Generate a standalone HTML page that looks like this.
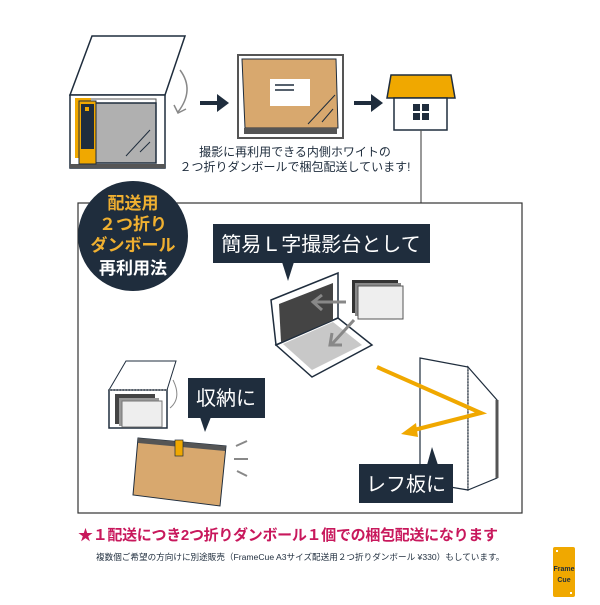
<!DOCTYPE html>
<html><head><meta charset="utf-8"><style>
body{margin:0;background:#fff;width:600px;height:600px;overflow:hidden;font-family:"Liberation Sans","Noto Sans CJK JP",sans-serif}
</style></head><body>
<svg width="600" height="600" viewBox="0 0 600 600" xmlns="http://www.w3.org/2000/svg" font-family="Liberation Sans, Noto Sans CJK JP, sans-serif">
<polygon points="92,36 185,36 165,95 70,95" fill="#fff" stroke="#1f2d3d" stroke-width="1.5"/>
<rect x="70" y="95" width="95" height="73" fill="#fff" stroke="#1f2d3d" stroke-width="1.5"/>
<line x1="72" y1="95" x2="163" y2="95" stroke="#1f2d3d" stroke-dasharray="2,2"/>
<rect x="70" y="164" width="95" height="4" fill="#555"/>
<rect x="80" y="99" width="76" height="64" fill="#fff" stroke="#555"/>
<rect x="90" y="103" width="66" height="60" fill="#b0b0b0" stroke="#1f2d3d" stroke-width="1.5"/>
<rect x="75" y="98" width="16" height="60" fill="#f0a800"/>
<rect x="79" y="101" width="17" height="63" fill="#f0a800" stroke="#1f2d3d"/>
<rect x="81" y="104" width="13" height="45" fill="#1f2d3d"/>
<rect x="85" y="107" width="4" height="4" fill="#f0a800"/>
<line x1="126" y1="156" x2="150" y2="130" stroke="#1f2d3d"/><line x1="140" y1="152" x2="150" y2="142" stroke="#1f2d3d"/>
<path d="M180,70 Q195,90 178,112" fill="none" stroke="#888" stroke-width="1.5"/>
<path d="M174,105 L178,113 L186,109" fill="none" stroke="#888" stroke-width="1.5"/>
<line x1="200" y1="103" x2="220" y2="103" stroke="#1f2d3d" stroke-width="4"/><polygon points="217,94 229,103 217,112" fill="#1f2d3d"/>
<line x1="354" y1="103" x2="374" y2="103" stroke="#1f2d3d" stroke-width="4"/><polygon points="371,94 383,103 371,112" fill="#1f2d3d"/>
<rect x="238" y="55" width="105" height="83" fill="#fff" stroke="#555" stroke-width="2"/>
<polygon points="242,59 336,59 338,128 245,128" fill="#d8a86e" stroke="#1f2d3d"/>
<rect x="244" y="128" width="93" height="6" fill="#555"/>
<rect x="270" y="79" width="40" height="27" fill="#fff"/>
<line x1="275" y1="85" x2="294" y2="85" stroke="#1f2d3d" stroke-width="1.5"/><line x1="275" y1="90" x2="294" y2="90" stroke="#1f2d3d" stroke-width="1.5"/>
<line x1="308" y1="124" x2="335" y2="95" stroke="#1f2d3d"/><line x1="322" y1="122" x2="333" y2="109" stroke="#1f2d3d"/>
<polygon points="391,75 451,75 455,98 387,98" fill="#f0a800" stroke="#1f2d3d" stroke-width="1.5"/>
<rect x="394" y="98" width="53" height="32" fill="#fff" stroke="#1f2d3d" stroke-width="1.5"/>
<rect x="413" y="104" width="7" height="7" fill="#1f2d3d"/><rect x="422" y="104" width="7" height="7" fill="#1f2d3d"/>
<rect x="413" y="113" width="7" height="7" fill="#1f2d3d"/><rect x="422" y="113" width="7" height="7" fill="#1f2d3d"/>
<line x1="421" y1="130" x2="421" y2="203" stroke="#555" stroke-width="1.2"/>
<text x="295" y="156" font-size="12" text-anchor="middle" fill="#1f2d3d">撮影に再利用できる内側ホワイトの</text>
<text x="295" y="171" font-size="12" text-anchor="middle" fill="#1f2d3d">２つ折りダンボールで梱包配送しています!</text>
<rect x="78" y="203" width="444" height="310" fill="#fff" stroke="#333" stroke-width="1.2"/>
<circle cx="133" cy="236" r="55" fill="#1f2d3d"/>
<g font-size="17" font-weight="bold" text-anchor="middle">
<text x="133" y="209" fill="#f0b030">配送用</text>
<text x="133" y="230" fill="#f0b030">２つ折り</text>
<text x="133" y="251" fill="#f0b030">ダンボール</text>
<text x="133" y="274" fill="#fff">再利用法</text></g>
<rect x="213" y="224" width="217" height="39" fill="#1f2d3d"/>
<polygon points="282,262 294,262 288,281" fill="#1f2d3d"/>
<text x="321" y="251" font-size="20" fill="#fff" text-anchor="middle">簡易Ｌ字撮影台として</text>
<polygon points="271,300 338,273 338,318 276,345" fill="#fff" stroke="#1f2d3d" stroke-width="1.5"/>
<polygon points="276,345 338,318 372,345 312,377" fill="#fff" stroke="#1f2d3d" stroke-width="1.5"/>
<polygon points="279,304 333,283 333,320 281,342" fill="#444"/>
<polygon points="283,344 333,322 362,345 312,370" fill="#c8c8c8"/>
<rect x="352" y="280" width="46" height="33" fill="#333"/><rect x="355" y="283" width="46" height="33" fill="#888"/>
<rect x="358" y="286" width="45" height="33" fill="#eee" stroke="#555"/>
<path d="M346,302 L314,302 M322,295 L313,302 L322,310" fill="none" stroke="#888" stroke-width="3"/>
<path d="M354,320 L332,344 M332,333 L330,345 L342,345" fill="none" stroke="#888" stroke-width="3"/>
<polygon points="126,361 176,361 167,390 109,390" fill="#fff" stroke="#1f2d3d"/>
<rect x="109" y="390" width="58" height="38" fill="#fff" stroke="#1f2d3d" stroke-width="1.5"/>
<line x1="109" y1="390" x2="167" y2="390" stroke="#888" stroke-dasharray="1.5,1.5"/>
<rect x="115" y="394" width="40" height="30" fill="#444"/><rect x="119" y="398" width="40" height="28" fill="#999"/>
<rect x="122" y="401" width="40" height="26" fill="#eee" stroke="#777"/>
<path d="M173,380 Q182,398 170,408" fill="none" stroke="#888"/>
<rect x="188" y="378" width="77" height="40" fill="#1f2d3d"/>
<polygon points="200,417 211,417 205,432" fill="#1f2d3d"/>
<text x="226" y="405" font-size="20" fill="#fff" text-anchor="middle">収納に</text>
<polygon points="138,438 226,446 220,506 133,495" fill="#d8a86e" stroke="#1f2d3d"/>
<polygon points="138,438 226,446 225,451 138,443" fill="#555"/>
<rect x="175" y="440" width="8" height="16" fill="#f0a800" stroke="#1f2d3d" stroke-width=".7"/>
<line x1="236" y1="446" x2="247" y2="441" stroke="#888" stroke-width="2"/><line x1="234" y1="459" x2="248" y2="459" stroke="#888" stroke-width="2"/><line x1="237" y1="471" x2="247" y2="476" stroke="#888" stroke-width="2"/>
<polygon points="420,358 468,367 468,490 420,482" fill="#fff" stroke="#1f2d3d" stroke-width="1.2"/>
<polygon points="468,367 497,400 497,478 468,490" fill="#fff" stroke="#1f2d3d" stroke-width="1.2"/>
<line x1="468" y1="368" x2="468" y2="489" stroke="#888" stroke-dasharray="1.5,1.5"/>
<line x1="497" y1="400" x2="497" y2="478" stroke="#555" stroke-width="3"/>
<polyline points="377,367 481,413 410,431" fill="none" stroke="#f0a800" stroke-width="4"/>
<polygon points="401,434 416,423 418,437" fill="#f0a800"/>
<rect x="359" y="464" width="94" height="39" fill="#1f2d3d"/>
<polygon points="427,465 438,465 432,447" fill="#1f2d3d"/>
<text x="406" y="491" font-size="20" fill="#fff" text-anchor="middle">レフ板に</text>
<text x="78" y="540" font-size="15" font-weight="bold" fill="#c8185c" textLength="420">★１配送につき2つ折りダンボール１個での梱包配送になります</text>
<text x="96" y="560" font-size="8.6" fill="#1f2d3d">複数個ご希望の方向けに別途販売（FrameCue A3サイズ配送用２つ折りダンボール ¥330）もしています。</text>
<rect x="553" y="547" width="22" height="50" rx="2" fill="#f0a800"/>
<rect x="556" y="550" width="2" height="2" fill="#fff"/><rect x="570" y="592" width="2" height="2" fill="#fff"/>
<text x="564" y="571" font-size="7" font-weight="bold" fill="#1f2d3d" text-anchor="middle">Frame</text>
<text x="564" y="582" font-size="7" font-weight="bold" fill="#1f2d3d" text-anchor="middle">Cue</text>
</svg>
</body></html>
